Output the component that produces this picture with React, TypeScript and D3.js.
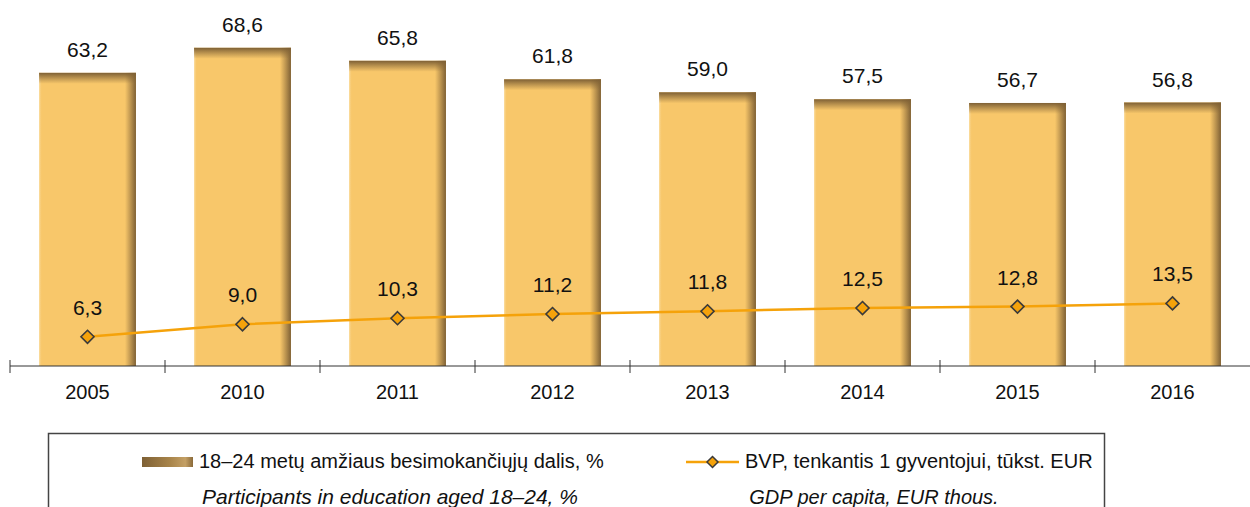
import React from 'react';
import * as d3 from 'd3';

const years = ['2005', '2010', '2011', '2012', '2013', '2014', '2015', '2016'];
const participants = [63.2, 68.6, 65.8, 61.8, 59.0, 57.5, 56.7, 56.8];
const gdp = [6.3, 9.0, 10.3, 11.2, 11.8, 12.5, 12.8, 13.5];

const barLegendLt = '18–24 metų amžiaus besimokančiųjų dalis, %';
const barLegendEn = 'Participants in education aged 18–24, %';
const lineLegendLt = 'BVP, tenkantis 1 gyventojui, tūkst. EUR';
const lineLegendEn = 'GDP per capita, EUR thous.';

const W = 1250;
const H = 507;
const font = '"Liberation Sans", Arial, sans-serif';

const fmt = (v: number) => v.toFixed(1).replace('.', ',');

const App = () => {
  const axisY = 366;
  const x = d3.scaleBand<string>().domain(years).range([10, 1250]).padding(0);
  const y = d3.scaleLinear().domain([0, 78.9]).range([axisY, 0]);
  const barW = x.bandwidth() * 0.625;
  const cx = (d: string) => (x(d) as number) + x.bandwidth() / 2;

  const line = d3
    .line<number>()
    .x((_, i) => cx(years[i]))
    .y((d) => y(d));

  const diamond = (px: number, py: number, r: number) =>
    `M${px},${py - r}L${px + r},${py}L${px},${py + r}L${px - r},${py}Z`;

  return (
    <div style={{ position: 'absolute', left: 0, top: 0 }}>
      <svg width={W} height={H} style={{ display: 'block' }} fontFamily={font}>
        <defs>
          <linearGradient id="rightShade" x1="0" x2="1" y1="0" y2="0">
            <stop offset="0" stopColor="#8a6a3a" stopOpacity="0" />
            <stop offset="1" stopColor="#7e6035" stopOpacity="1" />
          </linearGradient>
          <linearGradient id="topShade" x1="0" x2="0" y1="0" y2="1">
            <stop offset="0" stopColor="#7e6035" stopOpacity="1" />
            <stop offset="1" stopColor="#8a6a3a" stopOpacity="0" />
          </linearGradient>
          <linearGradient id="leftShade" x1="0" x2="1" y1="0" y2="0">
            <stop offset="0" stopColor="#fbe0a8" stopOpacity="1" />
            <stop offset="1" stopColor="#f8c76a" stopOpacity="0" />
          </linearGradient>
          <linearGradient id="legendSwatch" x1="0" x2="1" y1="0" y2="0">
            <stop offset="0" stopColor="#7e6035" />
            <stop offset="0.55" stopColor="#a8844a" />
            <stop offset="0.85" stopColor="#c4a065" />
            <stop offset="1" stopColor="#8a6a3a" />
          </linearGradient>
        </defs>

        {participants.map((v, i) => {
          const bx = cx(years[i]) - barW / 2;
          const by = y(v);
          const bh = axisY - by;
          return (
            <g key={years[i]}>
              <rect x={bx} y={by} width={barW} height={bh} fill="#f8c76a" />
              <rect x={bx} y={by} width={3} height={bh} fill="url(#leftShade)" />
              <rect x={bx + barW - 11} y={by} width={11} height={bh} fill="url(#rightShade)" />
              <rect x={bx} y={by} width={barW} height={11} fill="url(#topShade)" />
              <text
                x={cx(years[i])}
                y={by - 16}
                textAnchor="middle"
                fontSize={21}
                fill="#111"
              >
                {fmt(v)}
              </text>
            </g>
          );
        })}

        <line x1={10} x2={1250} y1={axisY} y2={axisY} stroke="#333" strokeWidth={1} />
        {years.map((d) => (
          <line
            key={'t' + d}
            x1={x(d) as number}
            x2={x(d) as number}
            y1={axisY - 6}
            y2={axisY + 7}
            stroke="#333"
            strokeWidth={1}
          />
        ))}
        {years.map((d) => (
          <text key={'l' + d} x={cx(d)} y={399} textAnchor="middle" fontSize={20} fill="#111">
            {d}
          </text>
        ))}

        <path d={line(gdp) as string} fill="none" stroke="#f5a20a" strokeWidth={2.5} />
        {gdp.map((v, i) => (
          <g key={'p' + i}>
            <path d={diamond(cx(years[i]), y(v), 6.5)} fill="#f5a20a" stroke="#3a3a3a" strokeWidth={1.6} />
            <text x={cx(years[i])} y={y(v) - 22} textAnchor="middle" fontSize={21} fill="#111">
              {fmt(v)}
            </text>
          </g>
        ))}

        <rect x={48.5} y={433.5} width={1056} height={90} fill="none" stroke="#444" strokeWidth={1.5} />
        <rect x={142} y={457} width={51} height={10} fill="url(#legendSwatch)" />
        <text x={199} y={468} fontSize={20} fill="#111">
          {barLegendLt}
        </text>
        <text x={390} y={504} textAnchor="middle" fontSize={21} fontStyle="italic" fill="#111">
          {barLegendEn}
        </text>
        <line x1={686} x2={739} y1={462} y2={462} stroke="#f5a20a" strokeWidth={2.5} />
        <path d={diamond(712.5, 462, 5.5)} fill="#f5a20a" stroke="#3a3a3a" strokeWidth={1.5} />
        <text x={745} y={468} fontSize={20} fill="#111">
          {lineLegendLt}
        </text>
        <text x={874} y={504} textAnchor="middle" fontSize={20} fontStyle="italic" fill="#111">
          {lineLegendEn}
        </text>
      </svg>
    </div>
  );
};

export default App;
